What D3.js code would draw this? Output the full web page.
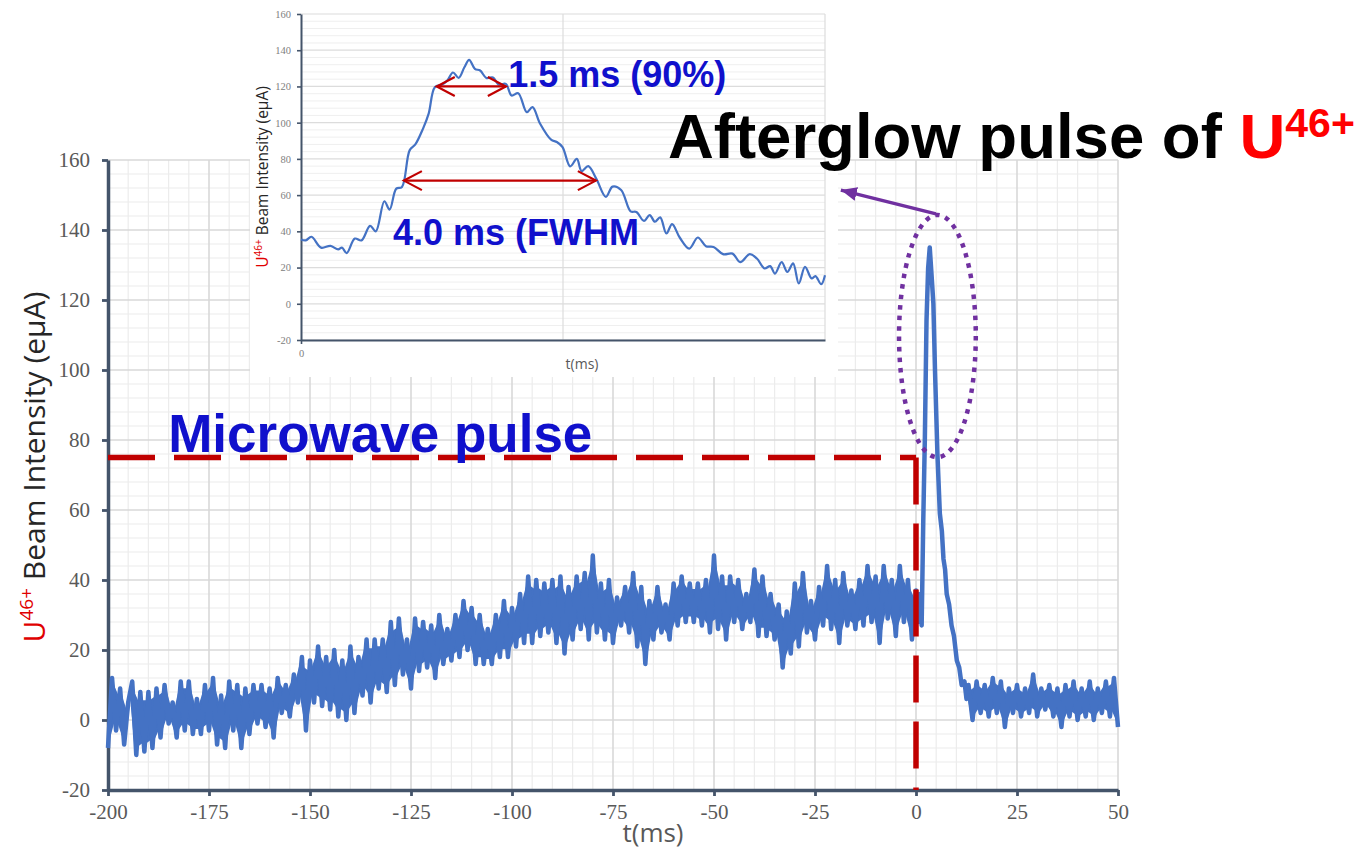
<!DOCTYPE html>
<html><head><meta charset="utf-8">
<script src="https://cdn.jsdelivr.net/npm/d3@7"></script>
<style>body{margin:0;background:#fff}</style>
</head><body><svg id="c" width="1365" height="852"></svg>
<script>
// ---------------- DATA ----------------
// main trace: sampled every 1 ms from -200 ms to 0 ms (values in eµA)
const tBeforeStart = -200;
const beamBefore = [
 -8,12,-3,9,-7,5,11,-10,8,-9,
 8,-8,9,-5,10,-1,5,-5,11,-3,
 11,-4,6,-4,10,-3,12,-7,7,-8,
 11,-3,10,-8,9,-4,10,-1,10,-2,
 9,-5,12,2,10,1,13,5,18,-3,
 17,5,21,4,18,3,20,1,17,0,
 21,2,18,7,23,5,23,9,23,8,
 28,10,29,13,23,9,29,14,28,15,
 27,12,30,16,26,17,30,18,34,20,
 32,16,30,16,26,16,30,18,34,18,
 32,21,36,22,41,22,40,24,39,25,
 40,22,41,19,38,23,41,26,42,23,
 47,25,39,23,40,22,35,27,38,25,
 42,21,38,16,34,23,38,25,33,23,
 39,27,41,28,39,28,39,27,40,25,
 47,26,41,23,41,28,40,26,36,28,
 43,24,41,24,36,23,33,15,31,19,
 39,21,42,25,34,23,38,27,44,26,
 40,22,42,27,37,26,40,27,44,28,
 41,22,44,29,40,24,44,28,40,23,
 37];
// afterglow pulse
const pulseT = [0.5,1,1.4,1.8,2.2,2.6,3.0,3.4,3.8,4.3,4.7,5.3,5.9,6.4,6.8,7.2,7.6,8.2,8.8,9.4,10.1,10.7,11.3,12.0,12.5];
const pulseV = [28,36,27,57,81,114,129,135,128,119,100,76,59,54,46,43,36,33,27,24,17,15,10,11,6];
// after pulse: sampled every 1 ms from 13 ms to 50 ms
const tAfterStart = 13;
const beamAfter = [
 10,0,11,2,10,1,12,2,11,-2,
 9,2,10,1,9,2,13,1,9,3,
 10,1,9,-2,10,1,11,0,9,1,
 11,0,9,2,11,1,12,-2];

// inset (zoom of afterglow pulse)
const insetT = [0,0.1,0.22,0.42,0.62,0.78,0.86,0.96,1.13,1.27,1.45,1.57,1.75,1.86,2.0,2.12,2.28,2.4,2.56,2.68,2.81,2.96,3.08,3.19,3.31,3.43,3.53,3.65,3.76,3.89,4.03,4.15,4.3,4.42,4.56,4.74,4.86,5.02,5.25,5.37,5.49,5.65,5.79,5.89,6.03,6.2,6.4,6.54,6.72,6.92,7.04,7.2,7.32,7.43,7.54,7.67,7.79,7.95,8.15,8.33,8.5,8.66,8.86,9.06,9.22,9.42,9.57,9.73,9.85,9.95,10.09,10.21,10.33,10.45,10.58,10.72,10.8,10.92,11];
const insetV = [35.5,35,37,31,32,30,31,28,36,35,43,40,56.6,52,63.6,64.5,84.7,88,96.6,105,119.6,121,123.6,127.7,124.7,130.6,134.7,129.7,128.8,124.7,125,121,121.4,115,116.3,105.8,108.6,99.4,90.6,89.3,86.5,75.9,80,73.3,76,69,59,64.7,62.8,51,50.7,45.8,49,45.3,47.7,38.8,44,36.6,30.5,36.6,31.8,31.4,27.4,27.7,23,27.4,25,19.5,20.8,16.7,23,17.6,22.3,11.2,20.4,14,15.3,10.8,15.8];
const widthArrowT0 = [2.85, 2.16];
const widthArrowT1 = [4.30, 6.19];
const widthArrowLevel = [120, 68];
const widthLabels = ["1.5 ms (90%)", "4.0 ms (FWHM"];
const widthLabelT = [4.35, 1.93];
const widthLabelV = [119.7, 32.4];

// axes
const xTicks = [-200,-175,-150,-125,-100,-75,-50,-25,0,25,50];
const yTicks = [-20,0,20,40,60,80,100,120,140,160];
const insetYTicks = [-20,0,20,40,60,80,100,120,140,160];

// annotations
const microwaveT = [-200, 0];
const microwaveLevel = 75;
const ellipseCenter = [5.3, 109.7];
const ellipseRadii = [9.5, 34.6];
const glowArrowFrom = [4.95, 144.6];
const glowArrowTo = [-18.6, 151.4];

// ---------------- DRAW ----------------
const svg = d3.select("#c");
svg.append("rect").attr("width",1365).attr("height",852).attr("fill","#fff");

const x = d3.scaleLinear().domain([-200,50]).range([108,1118]);
const y = d3.scaleLinear().domain([-20,160]).range([790,160]);
const fmt = d => String(d);

const grid = svg.append("g");
d3.range(-200,51,5).filter(v=>v%25!==0).forEach(v=>{
  grid.append("line").attr("x1",x(v)).attr("x2",x(v)).attr("y1",y(160)).attr("y2",y(-20)).attr("stroke","#ececec").attr("stroke-width",1.2);
});
d3.range(-20,161,4).filter(v=>v%20!==0).forEach(v=>{
  grid.append("line").attr("x1",x(-200)).attr("x2",x(50)).attr("y1",y(v)).attr("y2",y(v)).attr("stroke","#ececec").attr("stroke-width",1.2);
});
xTicks.forEach(v=>{
  grid.append("line").attr("x1",x(v)).attr("x2",x(v)).attr("y1",y(160)).attr("y2",y(-20)).attr("stroke","#d9d9d9").attr("stroke-width",1.6);
});
yTicks.forEach(v=>{
  grid.append("line").attr("x1",x(-200)).attr("x2",x(50)).attr("y1",y(v)).attr("y2",y(v)).attr("stroke","#d9d9d9").attr("stroke-width",1.6);
});

function styleAxis(g, font, size, color, w){
  g.select(".domain").attr("stroke","#44546a").attr("stroke-width",w);
  g.selectAll(".tick line").attr("stroke","#44546a").attr("stroke-width",w*0.8);
  g.selectAll(".tick text").attr("font-family",font).attr("font-size",size).attr("fill",color);
}
const gy = svg.append("g").attr("transform",`translate(${x(-200)},0)`)
  .call(d3.axisLeft(y).tickValues(yTicks).tickFormat(fmt).tickSize(6).tickSizeOuter(0).tickPadding(12));
styleAxis(gy,"Liberation Serif",21,"#595959",3.5);
const gx = svg.append("g").attr("transform",`translate(0,${y(-20)})`)
  .call(d3.axisBottom(x).tickValues(xTicks).tickFormat(fmt).tickSize(6).tickSizeOuter(0).tickPadding(8));
styleAxis(gx,"Liberation Serif",21,"#595959",3.5);

// axis titles
const yl = svg.append("text").attr("transform","translate(45,467) rotate(-90)")
  .attr("text-anchor","middle").attr("font-family","Open Sans").attr("font-size",30).attr("fill","#262626");
yl.append("tspan").attr("fill","#e00000").text("U");
yl.append("tspan").attr("fill","#e00000").attr("font-size",19).attr("dy",-12).text("46+");
yl.append("tspan").attr("dy",12).text(" Beam Intensity (eμA)");
svg.append("text").attr("x",653).attr("y",842).attr("text-anchor","middle")
  .attr("font-family","Open Sans").attr("font-size",26).attr("fill","#595959").text("t(ms)");

// ---------- inset ----------
const inset = svg.append("g");
inset.append("rect").attr("x",250).attr("y",0).attr("width",588).attr("height",377).attr("fill","#fff");
const ix = d3.scaleLinear().domain([0,11]).range([301,825]);
const iy = d3.scaleLinear().domain([-20,160]).range([340,14]);
d3.range(-20,161,4).filter(v=>v%20!==0).forEach(v=>{
  inset.append("line").attr("x1",ix(0)).attr("x2",ix(11)).attr("y1",iy(v)).attr("y2",iy(v)).attr("stroke","#efefef").attr("stroke-width",1);
});
insetYTicks.forEach(v=>{
  inset.append("line").attr("x1",ix(0)).attr("x2",ix(11)).attr("y1",iy(v)).attr("y2",iy(v)).attr("stroke","#dcdcdc").attr("stroke-width",1.2);
});
[5.5, 11].forEach(v=>{
  inset.append("line").attr("x1",ix(v)).attr("x2",ix(v)).attr("y1",iy(160)).attr("y2",iy(-20)).attr("stroke","#dcdcdc").attr("stroke-width",1.2);
});
const igy = inset.append("g").attr("transform",`translate(${ix(0)},0)`)
  .call(d3.axisLeft(iy).tickValues(insetYTicks).tickFormat(fmt).tickSize(4).tickSizeOuter(0).tickPadding(6));
styleAxis(igy,"Liberation Serif",10.5,"#808080",2);
const igx = inset.append("g").attr("transform",`translate(0,${iy(-20)})`)
  .call(d3.axisBottom(ix).tickValues([0]).tickFormat(fmt).tickSize(4).tickSizeOuter(0).tickPadding(6));
styleAxis(igx,"Liberation Serif",10.5,"#808080",2);
inset.append("text").attr("x",582).attr("y",369).attr("text-anchor","middle")
  .attr("font-family","Open Sans").attr("font-size",14).attr("fill","#595959").text("t(ms)");
const iyl = inset.append("text").attr("transform","translate(268,177) rotate(-90)")
  .attr("text-anchor","middle").attr("font-family","Open Sans").attr("font-size",15.5).attr("fill","#262626");
iyl.append("tspan").attr("fill","#e00000").text("U");
iyl.append("tspan").attr("fill","#e00000").attr("font-size",10).attr("dy",-6).text("46+");
iyl.append("tspan").attr("dy",6).text(" Beam Intensity (eμA)");

inset.append("path").datum(d3.zip(insetT, insetV))
  .attr("d", d3.line().x(d=>ix(d[0])).y(d=>iy(d[1])).curve(d3.curveCatmullRom))
  .attr("fill","none").attr("stroke","#4472c4").attr("stroke-width",2.2);

widthArrowT0.forEach((t0,i)=>{
  const x0 = ix(t0), x1 = ix(widthArrowT1[i]), yy = iy(widthArrowLevel[i]);
  const g = inset.append("g").attr("stroke","#c00000").attr("stroke-width",2.2).attr("fill","none");
  g.append("line").attr("x1",x0).attr("x2",x1).attr("y1",yy).attr("y2",yy);
  g.append("path").attr("d",`M${x0+18},${yy-9.5}L${x0},${yy}L${x0+18},${yy+9.5}`);
  g.append("path").attr("d",`M${x1-18},${yy-9.5}L${x1},${yy}L${x1-18},${yy+9.5}`);
  inset.append("text").attr("x",ix(widthLabelT[i])).attr("y",iy(widthLabelV[i]))
    .attr("font-family","Liberation Sans").attr("font-weight","bold").attr("font-size",36)
    .attr("fill","#1010cc").text(widthLabels[i]);
});

// ---------- main trace ----------
const traceT = [...beamBefore.map((_,i)=>tBeforeStart+i), ...pulseT, ...beamAfter.map((_,i)=>tAfterStart+i)];
const traceV = [...beamBefore, ...pulseV, ...beamAfter];
const trace = d3.zip(traceT, traceV);
// solid core of the noisy band (between consecutive samples)
const core = trace.slice(0,-1).map((d,i)=>{
  const a = d[1], b = trace[i+1][1];
  const mid = (a+b)/2, half = Math.abs(a-b)/2*0.72;
  return [(d[0]+trace[i+1][0])/2, mid-half, mid+half];
});
svg.append("path").datum(core)
  .attr("d", d3.area().x(d=>x(d[0])).y0(d=>y(d[1])).y1(d=>y(d[2])))
  .attr("fill","#4472c4").attr("stroke","none");
svg.append("path").datum(trace)
  .attr("d", d3.line().x(d=>x(d[0])).y(d=>y(d[1])))
  .attr("fill","none").attr("stroke","#4472c4").attr("stroke-width",4.5).attr("stroke-linejoin","round");

// microwave pulse (red dashed)
svg.append("line").attr("x1",x(microwaveT[0])).attr("x2",x(microwaveT[1]))
  .attr("y1",y(microwaveLevel)).attr("y2",y(microwaveLevel))
  .attr("stroke","#c00000").attr("stroke-width",5.5).attr("stroke-dasharray","47 19");
svg.append("line").attr("x1",x(microwaveT[1])).attr("x2",x(microwaveT[1]))
  .attr("y1",y(microwaveLevel)).attr("y2",y(-20))
  .attr("stroke","#c00000").attr("stroke-width",5.5).attr("stroke-dasharray","47 19");
svg.append("text").attr("x",x(-185.1)).attr("y",y(76.6))
  .attr("font-family","Liberation Sans").attr("font-weight","bold").attr("font-size",53)
  .attr("fill","#1010cc").text("Microwave pulse");

// afterglow ellipse + arrow
svg.append("ellipse").attr("cx",x(ellipseCenter[0])).attr("cy",y(ellipseCenter[1]))
  .attr("rx",x(ellipseCenter[0]+ellipseRadii[0])-x(ellipseCenter[0]))
  .attr("ry",y(ellipseCenter[1]-ellipseRadii[1])-y(ellipseCenter[1]))
  .attr("fill","none").attr("stroke","#7030a0").attr("stroke-width",4.5).attr("stroke-dasharray","4.5 6");
svg.append("defs").append("marker").attr("id","ah").attr("markerUnits","userSpaceOnUse")
  .attr("markerWidth",18).attr("markerHeight",16).attr("refX",16).attr("refY",8).attr("orient","auto")
  .append("path").attr("d","M0,1L16,8L0,15Z").attr("fill","#7030a0");
svg.append("line").attr("x1",x(glowArrowFrom[0])).attr("y1",y(glowArrowFrom[1]))
  .attr("x2",x(glowArrowTo[0])).attr("y2",y(glowArrowTo[1]))
  .attr("stroke","#7030a0").attr("stroke-width",3.2).attr("marker-end","url(#ah)");

const at = svg.append("text").attr("x",x(-61.4)).attr("y",y(160.6))
  .attr("font-family","Liberation Sans").attr("font-weight","bold").attr("font-size",63.5).attr("fill","#000");
at.append("tspan").text("Afterglow pulse of ");
at.append("tspan").attr("fill","#ff0000").text("U");
at.append("tspan").attr("fill","#ff0000").attr("font-size",41).attr("dy",-21).text("46+");
</script></body></html>
